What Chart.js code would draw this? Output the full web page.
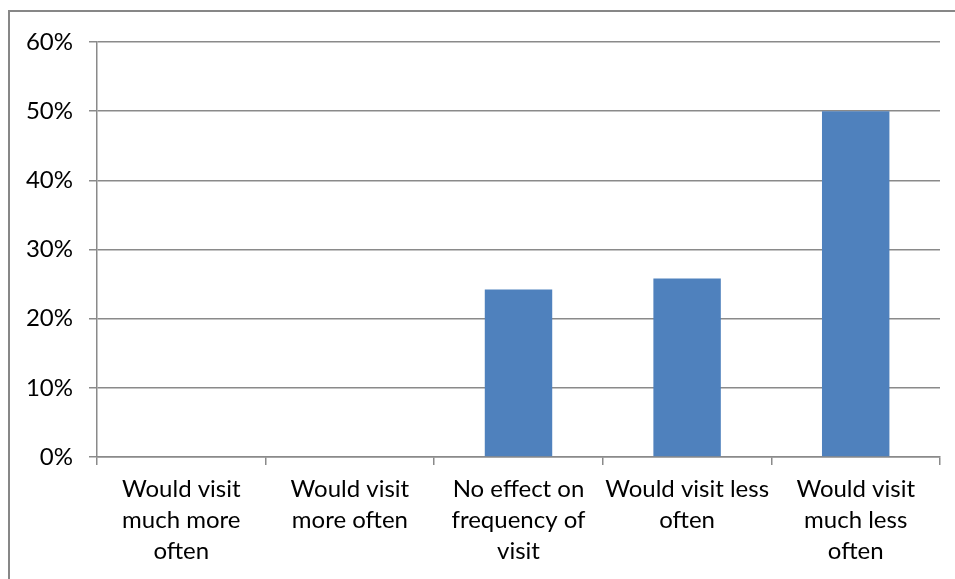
<!DOCTYPE html>
<html>
<head>
<meta charset="utf-8">
<script src="https://cdn.jsdelivr.net/npm/chart.js@4/dist/chart.umd.min.js"></script>
<style>
  html, body { margin: 0; padding: 0; background: #fff; overflow: hidden; }
  #frame { position: absolute; left: 8px; top: 10px; width: 980px; height: 600px;
           border: 2px solid #878787; box-sizing: border-box; }
  #wrap { position: absolute; left: 0; top: 0; width: 955px; height: 579px; }
</style>
</head>
<body>
<div id="frame"></div>
<div id="wrap"><canvas id="chart"></canvas></div>
<script>
// categories, wrapped the way the original labels wrap
const categories = [
  ['Would visit', 'much more', 'often'],
  ['Would visit', 'more often'],
  ['No effect on', 'frequency of', 'visit'],
  ['Would visit less', 'often'],
  ['Would visit', 'much less', 'often']
]
const shares = [0, 0, 24.2, 25.8, 50]   // percent of respondents
const yTicks = [0, 10, 20, 30, 40, 50, 60]

const gridGray = '#8a8a8a'
const font = { family: 'Lato, "Open Sans", sans-serif', size: 24, lineHeight: 1.29 }

new Chart(document.getElementById('chart'), {
  type: 'bar',
  data: {
    labels: categories,
    datasets: [{
      data: shares,
      backgroundColor: '#4f81bd',
      borderWidth: 0,
      barPercentage: 0.4,
      categoryPercentage: 1
    }]
  },
  options: {
    responsive: true,
    maintainAspectRatio: false,
    animation: false,
    layout: { padding: { top: 42, right: 15, left: 0, bottom: 0 } },
    plugins: { legend: { display: false }, tooltip: { enabled: false } },
    scales: {
      x: {
        grid: { offset: true, drawOnChartArea: false, color: gridGray, lineWidth: 1.5, tickLength: 8 },
        border: { color: gridGray, width: 1.5 },
        ticks: { color: '#000', font: font, padding: 9, maxRotation: 0, autoSkip: false },
        afterFit: s => { s.height = 122 }
      },
      y: {
        min: 0,
        max: 60,
        afterBuildTicks: s => { s.ticks = yTicks.map(v => ({ value: v })) },
        grid: { color: gridGray, lineWidth: 1.5, tickLength: 8 },
        border: { color: gridGray, width: 1.5 },
        ticks: { color: '#000', font: font, padding: 16, callback: v => v + '%' },
        afterFit: s => { s.width = 97 }
      }
    }
  }
})
</script>
</body>
</html>
